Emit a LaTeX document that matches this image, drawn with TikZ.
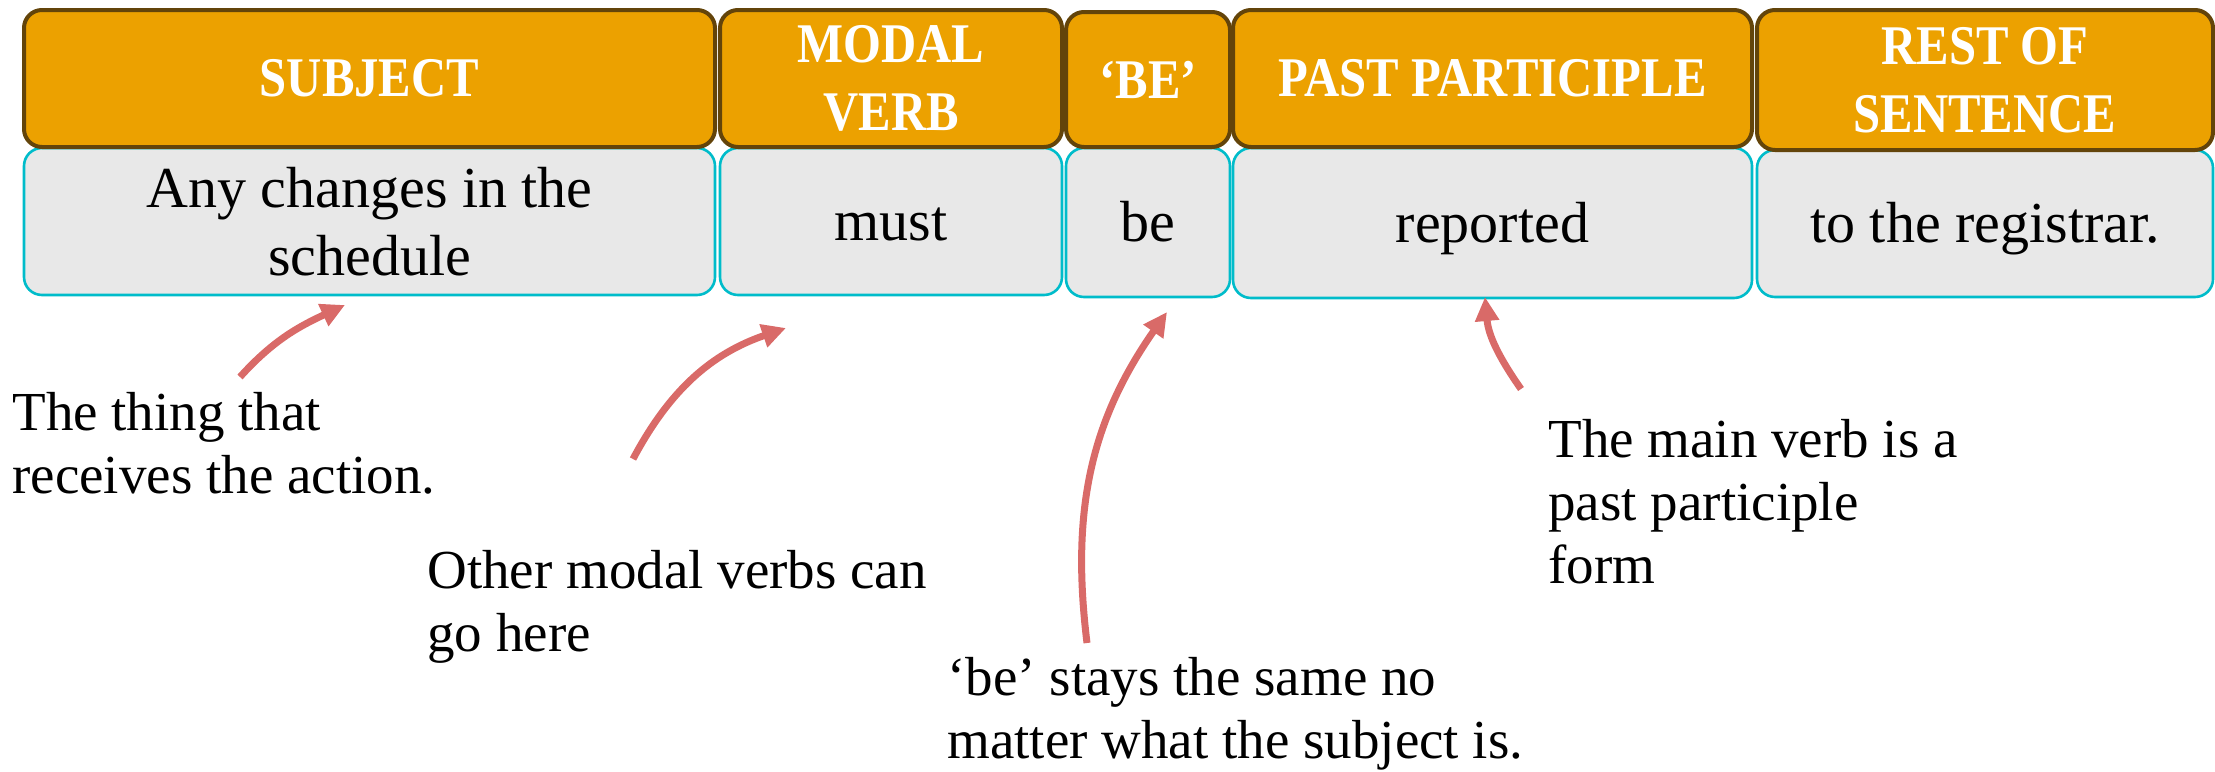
\documentclass[tikz,border=0pt]{standalone}
\usepackage{fontspec}
\setmainfont{Liberation Serif}
\newfontfamily\hdrfont[FakeStretch=0.87]{Liberation Serif}
\usetikzlibrary{arrows.meta}
\definecolor{hdrfill}{RGB}{236,161,0}
\definecolor{hdrline}{RGB}{99,68,10}
\definecolor{bodyfill}{RGB}{232,232,232}
\definecolor{bodyline}{RGB}{0,188,202}
\definecolor{arrcol}{RGB}{217,106,104}
\begin{document}
\begin{tikzpicture}[x=0.5pt,y=0.5pt,
  hdr/.style={draw=hdrline, line width=2pt, fill=hdrfill, rounded corners=9pt,
    text=white, font=\hdrfont\bfseries\fontsize{28pt}{34pt}\selectfont,
    align=center, inner sep=0pt},
  bodybox/.style={draw=bodyline, line width=1.3pt, fill=bodyfill, rounded corners=9pt,
    font=\fontsize{29pt}{34pt}\selectfont, align=center, inner sep=0pt},
  oneline/.style={text height=21pt, text depth=2pt},
  note/.style={font=\fontsize{27.5pt}{31.5pt}\selectfont, align=left,
    inner sep=0pt, anchor=base west},
  arr/.style={draw=arrcol, line width=3.5pt, -{Triangle[length=12pt,width=11.5pt]}}
]
\useasboundingbox (0,0) rectangle (2215,-771);

% body boxes
\node[bodybox, minimum width=345.5pt, minimum height=73.5pt] (b1) at (369.5,-221.5) {Any changes in the\\schedule};
\node[bodybox, oneline, minimum width=171pt, minimum height=73.5pt] (b2) at (891,-221.5) {must};
\node[bodybox, oneline, minimum width=82pt, minimum height=74.5pt] (b3) at (1148,-222.5) {be};
\node[bodybox, oneline, minimum width=259.5pt, minimum height=75pt] (b4) at (1492.5,-223) {reported};
\node[bodybox, oneline, minimum width=228pt, minimum height=73.5pt] (b5) at (1985,-223.5) {to the registrar.};

% header boxes
\node[hdr, minimum width=345.5pt, minimum height=68.5pt] (h1) at (369.5,-78.5) {SUBJECT};
\node[hdr, minimum width=171pt, minimum height=68.5pt] (h2) at (891,-78.5) {MODAL\\VERB};
\node[hdr, minimum width=82pt, minimum height=67.5pt] (h3) at (1148,-79.5) {‘BE’};
\node[hdr, minimum width=259.5pt, minimum height=68.5pt] (h4) at (1492.5,-78.5) {PAST PARTICIPLE};
\node[hdr, minimum width=228pt, minimum height=70pt] (h5) at (1985,-80) {REST OF\\SENTENCE};

% notes (anchor = baseline of last line)
\node[note] (n1) at (12,-493) {The thing that\\receives the action.};
\node[note] (n2) at (427,-651) {Other modal verbs can\\go here};
\node[note] (n3) at (947,-758) {‘be’ stays the same no\\matter what the subject is.};
\node[note] (n4) at (1548,-583) {The main verb is a\\past participle\\form};

% arrow ends
\coordinate (s1) at (240,-377); \coordinate (e1) at (345,-305);
\coordinate (s2) at (633,-459); \coordinate (e2) at (786,-328);
\coordinate (s3) at (1087,-643); \coordinate (e3) at (1167,-312);
\coordinate (s4) at (1521,-389); \coordinate (e4) at (1485,-297);

\draw[arr] (s1) to[out=48,in=205] (e1);
\draw[arr] (s2) to[out=62,in=199] (e2);
\draw[arr] (s3) to[out=97,in=235] (e3);
\draw[arr] (s4) to[out=125,in=-85] (e4);
\end{tikzpicture}
\end{document}
